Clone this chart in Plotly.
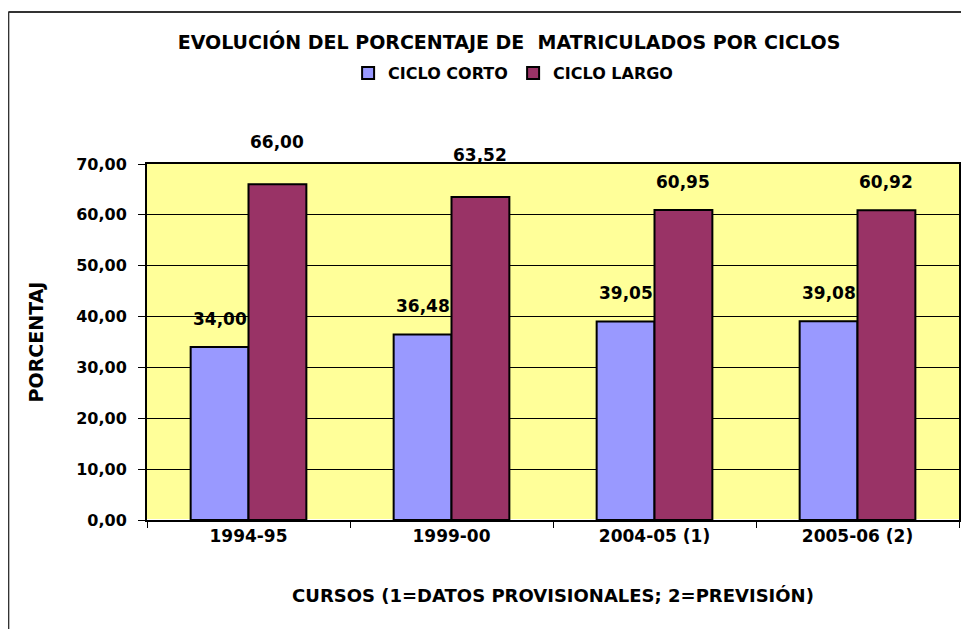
import plotly.graph_objects as go

cursos = ["1994-95", "1999-00", "2004-05 (1)", "2005-06 (2)"]
ciclo_corto = [34.00, 36.48, 39.05, 39.08]
ciclo_largo = [66.00, 63.52, 60.95, 60.92]

FONT = "DejaVu Sans, Arial, sans-serif"


def bold(size):
    return dict(family=FONT, size=size, color="black", weight="bold")


fig = go.Figure()
fig.add_trace(go.Bar(x=cursos, y=ciclo_corto, name="CICLO CORTO",
                     marker=dict(color="#9999FF", line=dict(color="black", width=2))))
fig.add_trace(go.Bar(x=cursos, y=ciclo_largo, name="CICLO LARGO",
                     marker=dict(color="#993366", line=dict(color="black", width=2))))

# etiquetas de datos encima de cada barra
annotations = []
half = (1 - 0.43) / 4
for i in range(len(cursos)):
    annotations.append(dict(x=i - half, y=ciclo_corto[i], xref="x", yref="y",
                            text=f"{ciclo_corto[i]:.2f}".replace(".", ","),
                            showarrow=False, yshift=28, font=bold(17)))
    shift = 42 if i < 2 else 28
    annotations.append(dict(x=i + half, y=ciclo_largo[i], xref="x", yref="y",
                            text=f"{ciclo_largo[i]:.2f}".replace(".", ","),
                            showarrow=False, yshift=shift, font=bold(17)))

# la página tiene 8px de margen en el body
W, H = 961, 621
L, T, R, B = 139, 156, 8, 109
pw, ph = W - L - R, H - T - B

layout = go.Layout(
    width=W, height=H,
    margin=dict(l=L, r=R, t=T, b=B),
    paper_bgcolor="white",
    plot_bgcolor="#FFFF99",
    separators=",.",
    barmode="group",
    bargap=0.43,
    bargroupgap=0,
    title=dict(text="EVOLUCIÓN DEL PORCENTAJE DE  MATRICULADOS POR CICLOS",
               x=501 / W, xanchor="center", y=1 - 34 / H, yanchor="middle",
               font=bold(19)),
    showlegend=True,
    legend=dict(orientation="h", x=(506 - L) / pw, xanchor="center",
                y=1 + (T - 65) / ph, yanchor="middle", font=bold(16),
                itemwidth=30, tracegroupgap=0, entrywidth=120),
    xaxis=dict(showline=True, linecolor="black", linewidth=2, mirror=True,
               ticks="outside", tickson="boundaries", ticklen=6, tickcolor="black",
               tickfont=bold(17),
               title=dict(text="CURSOS (1=DATOS PROVISIONALES; 2=PREVISIÓN)",
                          font=bold(18), standoff=44)),
    yaxis=dict(range=[0, 70], dtick=10, tickformat=".2f",
               showline=True, linecolor="black", linewidth=2, mirror=True,
               showgrid=True, gridcolor="black", gridwidth=1,
               ticks="outside", ticklen=7, tickcolor="black",
               tickfont=bold(16), ticklabelstandoff=8,
               title=dict(text="PORCENTAJ", font=bold(19), standoff=28)),
    annotations=annotations,
    shapes=[
        dict(type="line", xref="paper", yref="paper",
             x0=-L / pw, x1=1.2, y0=1 + (T - 4) / ph, y1=1 + (T - 4) / ph,
             line=dict(color="#333333", width=2)),
        dict(type="line", xref="paper", yref="paper",
             x0=-L / pw, x1=-L / pw, y0=1 + (T - 4) / ph, y1=-0.5,
             line=dict(color="#333333", width=2)),
    ],
)

fig = go.Figure(data=fig.data, layout=layout)
fig.write_html("out.html")
